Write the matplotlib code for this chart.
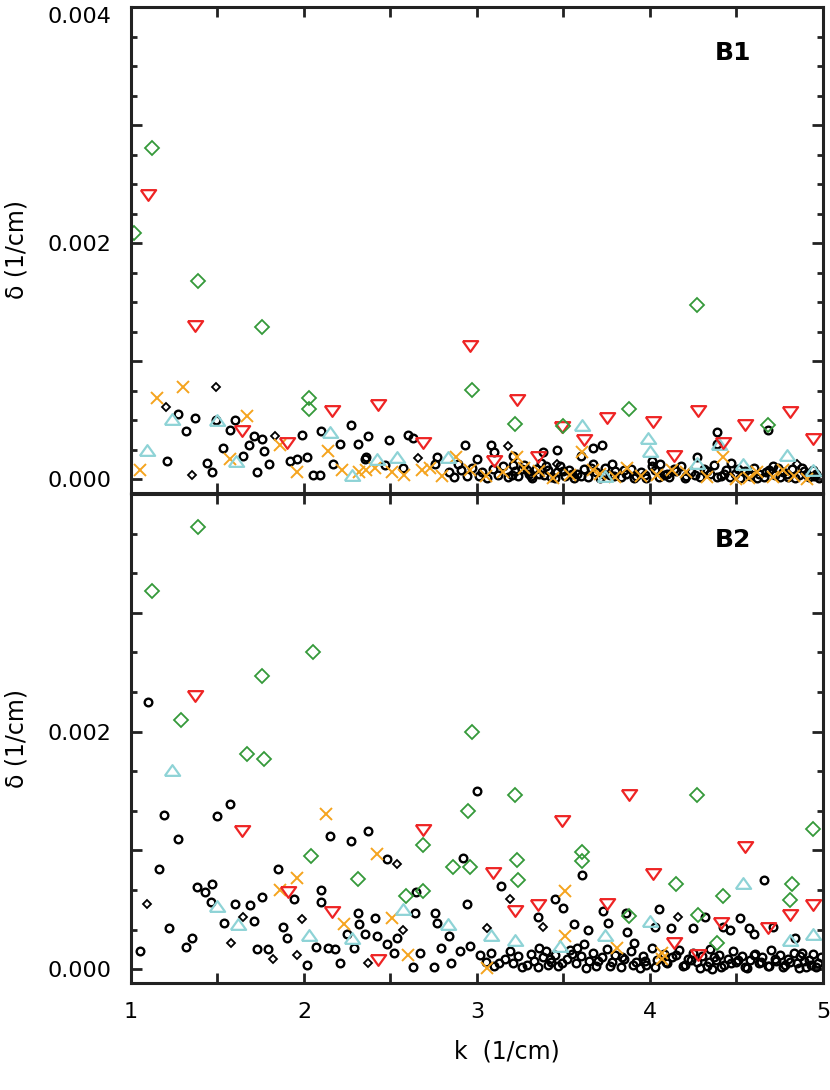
import numpy as np
import matplotlib
matplotlib.use("Agg")
import matplotlib.pyplot as plt
from matplotlib.ticker import MultipleLocator, AutoMinorLocator, FuncFormatter

# all delta values are read in units of 1e-3 (1/cm)

# ---------------- panel B1 ----------------
b1_green_k = [1.02, 1.12, 1.39, 1.76, 2.03, 2.03, 2.97, 3.22, 3.50, 3.88, 4.27, 4.68]
b1_green_d = [2.09, 2.81, 1.68, 1.29, 0.69, 0.60, 0.76, 0.47, 0.45, 0.60, 1.48, 0.46]

b1_red_k = [1.10, 1.37, 1.64, 1.90, 2.16, 2.43, 2.69, 2.96, 3.10, 3.23, 3.35, 3.49, 3.62,
            3.75, 4.02, 4.14, 4.28, 4.42, 4.55, 4.81, 4.94]
b1_red_d = [2.41, 1.30, 0.41, 0.31, 0.58, 0.63, 0.31, 1.13, 0.16, 0.67, 0.19, 0.44, 0.33,
            0.52, 0.49, 0.20, 0.58, 0.31, 0.46, 0.57, 0.34]

b1_cyan_k = [1.09, 1.24, 1.50, 1.61, 2.15, 2.28, 2.42, 2.54, 2.83, 3.61, 3.74, 3.99, 4.00,
             4.27, 4.40, 4.54, 4.79, 4.94]
b1_cyan_d = [0.25, 0.51, 0.50, 0.16, 0.40, 0.04, 0.17, 0.19, 0.19, 0.46, 0.03, 0.35, 0.24,
             0.14, 0.30, 0.13, 0.21, 0.08]

b1_orange_k = [1.05, 1.15, 1.30, 1.57, 1.67, 1.86, 1.96, 2.14, 2.22, 2.32, 2.36, 2.41, 2.51,
               2.68, 2.80, 2.88, 2.96, 3.15, 3.23, 3.27, 3.54, 3.61, 3.67, 3.80, 3.87, 4.04,
               4.13, 4.33, 4.42, 4.50, 4.62, 4.71, 4.83, 4.91,
               2.58, 2.73, 3.05, 3.36, 3.44, 3.71, 3.95, 4.21, 4.57, 4.77]
b1_orange_d = [0.08, 0.69, 0.78, 0.17, 0.54, 0.29, 0.06, 0.24, 0.08, 0.06, 0.08, 0.10, 0.06,
               0.08, 0.03, 0.19, 0.08, 0.06, 0.19, 0.10, 0.04, 0.23, 0.08, 0.02, 0.10, 0.04,
               0.08, 0.02, 0.19, 0.00, 0.06, 0.02, 0.03, 0.00,
               0.04, 0.10, 0.03, 0.07, 0.01, 0.05, 0.03, 0.06, 0.01, 0.08]

b1_bdiam_k = [1.20, 1.35, 1.49, 1.83, 2.66, 3.18, 3.46, 4.85]
b1_bdiam_d = [0.61, 0.04, 0.78, 0.37, 0.18, 0.28, 0.13, 0.13]

b1_black_k = [1.27, 1.37, 1.32, 1.49, 1.21, 1.44, 1.47, 1.60, 1.57, 1.53, 1.65, 1.68, 1.71,
              1.76, 1.77, 1.80, 1.73, 1.92, 1.96, 1.99, 2.02, 2.05, 2.09, 2.10, 2.27, 2.21,
              2.31, 2.17, 2.37, 2.35, 2.49, 2.60, 2.63, 2.77, 2.93, 3.08, 3.10, 3.21, 3.38,
              3.46, 3.67, 3.60, 2.36, 2.47, 2.57, 2.76, 2.89, 3.00, 3.01, 3.21, 3.29, 3.72,
              3.67, 3.78, 4.01, 4.06, 4.27, 4.39, 4.39, 4.68, 4.74, 4.94,
              2.84, 2.87, 2.91, 2.94, 2.97, 3.03, 3.06, 3.09, 3.12, 3.15, 3.18, 3.22, 3.24,
              3.27, 3.30, 3.32, 3.34, 3.37, 3.39, 3.41, 3.43, 3.46, 3.48, 3.51, 3.53, 3.56,
              3.58, 3.62, 3.64, 3.69, 3.71, 3.74, 3.77, 3.80, 3.83, 3.86, 3.89, 3.92, 3.95,
              3.98, 4.03, 4.08, 4.11, 4.15, 4.18, 4.21, 4.24, 4.29, 4.31, 4.35, 4.37, 4.41,
              4.44, 4.47, 4.49, 4.52, 4.55, 4.58, 4.60, 4.63, 4.66, 4.69, 4.72, 4.77, 4.80,
              4.82, 4.86, 4.89, 4.92, 4.96, 4.98,
              3.20, 3.26, 3.31, 3.36, 3.40, 3.45, 3.50, 3.55, 3.60, 3.66, 3.73, 3.79, 3.85,
              3.91, 3.97, 4.01, 4.05, 4.10, 4.14, 4.20, 4.26, 4.33, 4.39, 4.43, 4.46, 4.51,
              4.57, 4.62, 4.67, 4.71, 4.75, 4.79, 4.84, 4.88, 4.91, 4.95]
b1_black_d = [0.55, 0.52, 0.41, 0.50, 0.16, 0.14, 0.06, 0.50, 0.42, 0.27, 0.20, 0.29, 0.37,
              0.34, 0.24, 0.13, 0.06, 0.16, 0.17, 0.38, 0.19, 0.04, 0.04, 0.41, 0.46, 0.30,
              0.30, 0.13, 0.37, 0.17, 0.33, 0.38, 0.35, 0.19, 0.29, 0.29, 0.23, 0.20, 0.23,
              0.25, 0.27, 0.20, 0.19, 0.12, 0.10, 0.13, 0.13, 0.17, 0.03, 0.12, 0.08, 0.29,
              0.13, 0.13, 0.16, 0.13, 0.19, 0.40, 0.30, 0.42, 0.10, 0.08,
              0.06, 0.02, 0.08, 0.03, 0.10, 0.06, 0.01, 0.09, 0.04, 0.11, 0.02, 0.07, 0.03,
              0.12, 0.05, 0.01, 0.09, 0.14, 0.04, 0.08, 0.02, 0.06, 0.11, 0.03, 0.08, 0.01,
              0.05, 0.09, 0.02, 0.06, 0.01, 0.10, 0.04, 0.07, 0.02, 0.05, 0.09, 0.03, 0.06,
              0.01, 0.08, 0.04, 0.02, 0.07, 0.11, 0.03, 0.06, 0.02, 0.09, 0.05, 0.12, 0.03,
              0.08, 0.14, 0.05, 0.01, 0.07, 0.03, 0.10, 0.05, 0.02, 0.08, 0.04, 0.06, 0.02,
              0.09, 0.04, 0.07, 0.02, 0.05, 0.01,
              0.04, 0.09, 0.03, 0.05, 0.11, 0.01, 0.07, 0.05, 0.03, 0.10, 0.05, 0.03, 0.08,
              0.01, 0.04, 0.11, 0.02, 0.05, 0.09, 0.01, 0.04, 0.07, 0.02, 0.05, 0.02, 0.09,
              0.05, 0.01, 0.06, 0.11, 0.02, 0.05, 0.01, 0.10, 0.04, 0.03]

# ---------------- panel B2 ----------------
b2_green_k = [1.39, 1.12, 1.29, 1.76, 1.67, 1.77, 2.05, 2.04, 2.31, 2.59, 2.97, 2.95, 3.22,
              2.69, 2.86, 2.96, 2.69, 3.23, 3.24, 3.61, 3.61, 4.27, 4.15, 3.88, 4.28, 4.42,
              4.39, 4.94, 4.82, 4.81]
b2_green_d = [3.72, 3.18, 2.10, 2.47, 1.81, 1.77, 2.67, 0.95, 0.76, 0.62, 2.00, 1.33, 1.47,
              1.05, 0.86, 0.86, 0.66, 0.92, 0.75, 0.99, 0.91, 1.47, 0.72, 0.45, 0.46, 0.62,
              0.22, 1.18, 0.72, 0.58]

b2_red_k = [1.37, 1.64, 1.91, 2.16, 2.43, 2.69, 3.09, 3.22, 3.35, 3.49, 3.75, 3.88, 4.02,
            4.14, 4.28, 4.41, 4.55, 4.68, 4.81, 4.94]
b2_red_d = [2.30, 1.16, 0.65, 0.48, 0.08, 1.17, 0.81, 0.49, 0.54, 1.25, 0.55, 1.47, 0.80,
            0.22, 0.12, 0.39, 1.03, 0.35, 0.46, 0.54]

b2_cyan_k = [1.24, 1.50, 1.62, 2.03, 2.28, 2.57, 2.83, 3.08, 3.22, 3.48, 3.74, 4.00, 4.54,
             4.81, 4.94]
b2_cyan_d = [1.68, 0.53, 0.38, 0.29, 0.26, 0.51, 0.38, 0.29, 0.25, 0.20, 0.29, 0.41, 0.73,
             0.25, 0.30]

b2_orange_k = [1.86, 1.96, 2.13, 2.23, 2.42, 2.51, 2.60, 3.06, 3.51, 3.51, 3.81, 4.07, 4.07]
b2_orange_d = [0.67, 0.77, 1.31, 0.38, 0.97, 0.43, 0.12, 0.01, 0.66, 0.28, 0.18, 0.09, 0.14]

b2_bdiam_k = [1.09, 1.65, 1.58, 1.82, 1.99, 1.96, 2.37, 2.54, 2.57, 3.19, 3.38, 3.06, 4.16]
b2_bdiam_d = [0.55, 0.44, 0.22, 0.09, 0.42, 0.12, 0.05, 0.89, 0.33, 0.59, 0.36, 0.35, 0.44]

b2_black_k = [1.10, 1.19, 1.27, 1.16, 1.22, 1.05, 1.35, 1.32, 1.50, 1.57, 1.38, 1.43, 1.47,
              1.46, 1.54, 1.60, 1.69, 1.71, 1.76, 1.73, 1.79, 1.85, 1.88, 1.90, 1.94, 2.02,
              2.07, 2.10, 2.10, 2.15, 2.27, 2.37, 2.48, 2.14, 2.18, 2.21, 2.25, 2.31, 2.32,
              2.29, 2.35, 2.41, 2.42, 2.48, 2.52, 2.54, 2.64, 2.63, 2.65,
              3.00, 2.92, 2.94, 3.14, 3.61, 3.45, 3.50, 3.35, 2.76, 2.77, 2.84, 2.75, 2.85,
              2.96, 2.67, 2.79, 2.90, 3.13, 3.29, 3.41, 3.56, 3.64, 3.58, 3.73, 3.76, 3.86,
              3.87, 3.91, 3.94, 4.05, 4.03, 4.12, 4.25, 4.32, 4.36, 4.42, 4.46, 4.52, 4.57,
              4.66, 4.60, 4.71, 4.84, 4.88,
              3.02, 3.05, 3.08, 3.10, 3.16, 3.19, 3.21, 3.24, 3.26, 3.31, 3.33, 3.36, 3.38,
              3.40, 3.43, 3.45, 3.47, 3.52, 3.54, 3.57, 3.60, 3.62, 3.65, 3.67, 3.69, 3.72,
              3.75, 3.78, 3.80, 3.83, 3.85, 3.89, 3.92, 3.96, 3.98, 4.01, 4.04, 4.08, 4.10,
              4.13, 4.17, 4.19, 4.22, 4.25, 4.27, 4.30, 4.33, 4.35, 4.38, 4.40, 4.43, 4.45,
              4.48, 4.50, 4.53, 4.55, 4.58, 4.61, 4.63, 4.65, 4.68, 4.70, 4.73, 4.75, 4.78,
              4.80, 4.83, 4.85, 4.87, 4.90, 4.92, 4.94, 4.97, 4.99,
              3.35, 3.42, 3.49, 3.55, 3.63, 3.70, 3.77, 3.84, 3.90, 3.97, 4.03, 4.09, 4.15,
              4.20, 4.24, 4.29, 4.34, 4.37, 4.41, 4.47, 4.51, 4.56, 4.60, 4.64, 4.69, 4.72,
              4.77, 4.81, 4.86, 4.89, 4.93, 4.96]
b2_black_d = [2.25, 1.30, 1.10, 0.84, 0.35, 0.15, 0.26, 0.19, 1.29, 1.39, 0.69, 0.65, 0.72,
              0.57, 0.39, 0.55, 0.54, 0.41, 0.61, 0.17, 0.17, 0.84, 0.36, 0.26, 0.59, 0.04,
              0.19, 0.67, 0.57, 1.12, 1.08, 1.16, 0.93, 0.18, 0.17, 0.05, 0.30, 0.47, 0.38,
              0.18, 0.30, 0.43, 0.28, 0.21, 0.14, 0.26, 0.47, 0.02, 0.65,
              1.50, 0.94, 0.55, 0.70, 0.79, 0.59, 0.52, 0.44, 0.47, 0.39, 0.28, 0.02, 0.05,
              0.20, 0.14, 0.18, 0.15, 0.05, 0.04, 0.04, 0.38, 0.33, 0.18, 0.49, 0.39, 0.47,
              0.31, 0.22, 0.01, 0.51, 0.36, 0.35, 0.35, 0.44, 0.00, 0.36, 0.33, 0.43, 0.35,
              0.75, 0.30, 0.36, 0.26, 0.14,
              0.12, 0.06, 0.14, 0.03, 0.09, 0.15, 0.05, 0.11, 0.02, 0.13, 0.07, 0.18, 0.10,
              0.15, 0.06, 0.12, 0.03, 0.09, 0.16, 0.05, 0.11, 0.21, 0.07, 0.14, 0.03, 0.10,
              0.17, 0.06, 0.12, 0.02, 0.09, 0.15, 0.06, 0.11, 0.04, 0.18, 0.08, 0.13, 0.05,
              0.10, 0.16, 0.03, 0.09, 0.14, 0.06, 0.11, 0.03, 0.17, 0.08, 0.12, 0.04, 0.09,
              0.15, 0.06, 0.11, 0.02, 0.08, 0.13, 0.05, 0.10, 0.03, 0.16, 0.07, 0.12, 0.04,
              0.09, 0.14, 0.05, 0.11, 0.02, 0.08, 0.13, 0.05, 0.10,
              0.02, 0.09, 0.05, 0.13, 0.01, 0.07, 0.03, 0.10, 0.04, 0.07, 0.02, 0.06, 0.12,
              0.04, 0.08, 0.01, 0.06, 0.10, 0.02, 0.05, 0.08, 0.01, 0.12, 0.06, 0.03, 0.09,
              0.02, 0.06, 0.01, 0.07, 0.04, 0.02]

GREEN = "#35993a"
RED = "#ee2424"
CYAN = "#8ed3d6"
ORANGE = "#f5a41e"

# flattened triangles, like the original symbols
tri_down = [(-1, 0.7), (1, 0.7), (0, -0.7), (-1, 0.7)]
tri_up = [(-1, -0.7), (1, -0.7), (0, 0.7), (-1, -0.7)]

plt.rcParams["font.family"] = "DejaVu Sans"

fig = plt.figure(figsize=(8.3, 10.9), dpi=100)
ax1 = fig.add_axes([0.1578, 0.5477, 0.8337, 0.4459])
ax2 = fig.add_axes([0.1578, 0.0982, 0.8337, 0.4486])


def draw_panel(ax, black, bdiam, orange, cyan, red, green):
    s = 1e-3
    ax.plot(black[0], np.array(black[1]) * s, "o", ls="none", ms=5.5, mfc="none",
            mec="black", mew=1.7)
    ax.plot(bdiam[0], np.array(bdiam[1]) * s, "D", ls="none", ms=4.5, mfc="none",
            mec="black", mew=1.3)
    ax.plot(orange[0], np.array(orange[1]) * s, "x", ls="none", ms=9, mec=ORANGE, mew=1.4)
    ax.plot(cyan[0], np.array(cyan[1]) * s, marker=tri_up, ls="none", ms=11, mfc="none",
            mec=CYAN, mew=1.6)
    ax.plot(red[0], np.array(red[1]) * s, marker=tri_down, ls="none", ms=11, mfc="none",
            mec=RED, mew=1.6)
    ax.plot(green[0], np.array(green[1]) * s, "D", ls="none", ms=6.8, mfc="none",
            mec=GREEN, mew=1.3)


draw_panel(ax1, (b1_black_k, b1_black_d), (b1_bdiam_k, b1_bdiam_d),
           (b1_orange_k, b1_orange_d), (b1_cyan_k, b1_cyan_d),
           (b1_red_k, b1_red_d), (b1_green_k, b1_green_d))
draw_panel(ax2, (b2_black_k, b2_black_d), (b2_bdiam_k, b2_bdiam_d),
           (b2_orange_k, b2_orange_d), (b2_cyan_k, b2_cyan_d),
           (b2_red_k, b2_red_d), (b2_green_k, b2_green_d))


def ylab(v, pos, shown):
    return "%.3f" % v if round(v * 1000) in shown and abs(v * 1000 - round(v * 1000)) < 1e-6 else ""


for ax, nminor, shown in [(ax1, 4, (0, 2, 4)), (ax2, 3, (0, 2))]:
    ax.set_xlim(1, 5)
    ax.set_ylim(-0.000115, 0.004)
    ax.xaxis.set_major_locator(MultipleLocator(0.5))
    ax.yaxis.set_major_locator(MultipleLocator(0.001))
    ax.yaxis.set_minor_locator(AutoMinorLocator(nminor))
    ax.yaxis.set_major_formatter(FuncFormatter(lambda v, p, s=shown: ylab(v, p, s)))
    ax.tick_params(axis="both", which="both", direction="in", top=True, right=True,
                   width=2, colors="#222222", labelcolor="black", labelsize=16)
    ax.tick_params(axis="y", which="major", length=8, pad=14)
    ax.tick_params(axis="y", which="minor", length=4)
    ax.tick_params(axis="x", which="major", length=7, pad=14)
    for sp in ax.spines.values():
        sp.set_linewidth(2.2)
        sp.set_color("#222222")
    ax.set_ylabel("\u03b4 (1/cm)", fontsize=17, labelpad=14)

ax1.tick_params(axis="x", labelbottom=False)
ax2.xaxis.set_major_formatter(FuncFormatter(
    lambda v, p: "%d" % round(v) if abs(v - round(v)) < 1e-6 else ""))

ax1.text(0.87, 0.905, "B1", transform=ax1.transAxes, fontsize=18, fontweight="bold",
         ha="center", va="center")
ax2.text(0.87, 0.905, "B2", transform=ax2.transAxes, fontsize=18, fontweight="bold",
         ha="center", va="center")

fig.text(507 / 830, 1 - 1052 / 1090, "k  (1/cm)", fontsize=17, ha="center", va="center")

# the 0.004 label sits a little below the top edge in the original
fig.canvas.draw()
for tick in ax1.yaxis.get_major_ticks():
    if tick.label1.get_text() == "0.004":
        tick.label1.set_va("top")

fig.savefig("out.png", dpi=100)
